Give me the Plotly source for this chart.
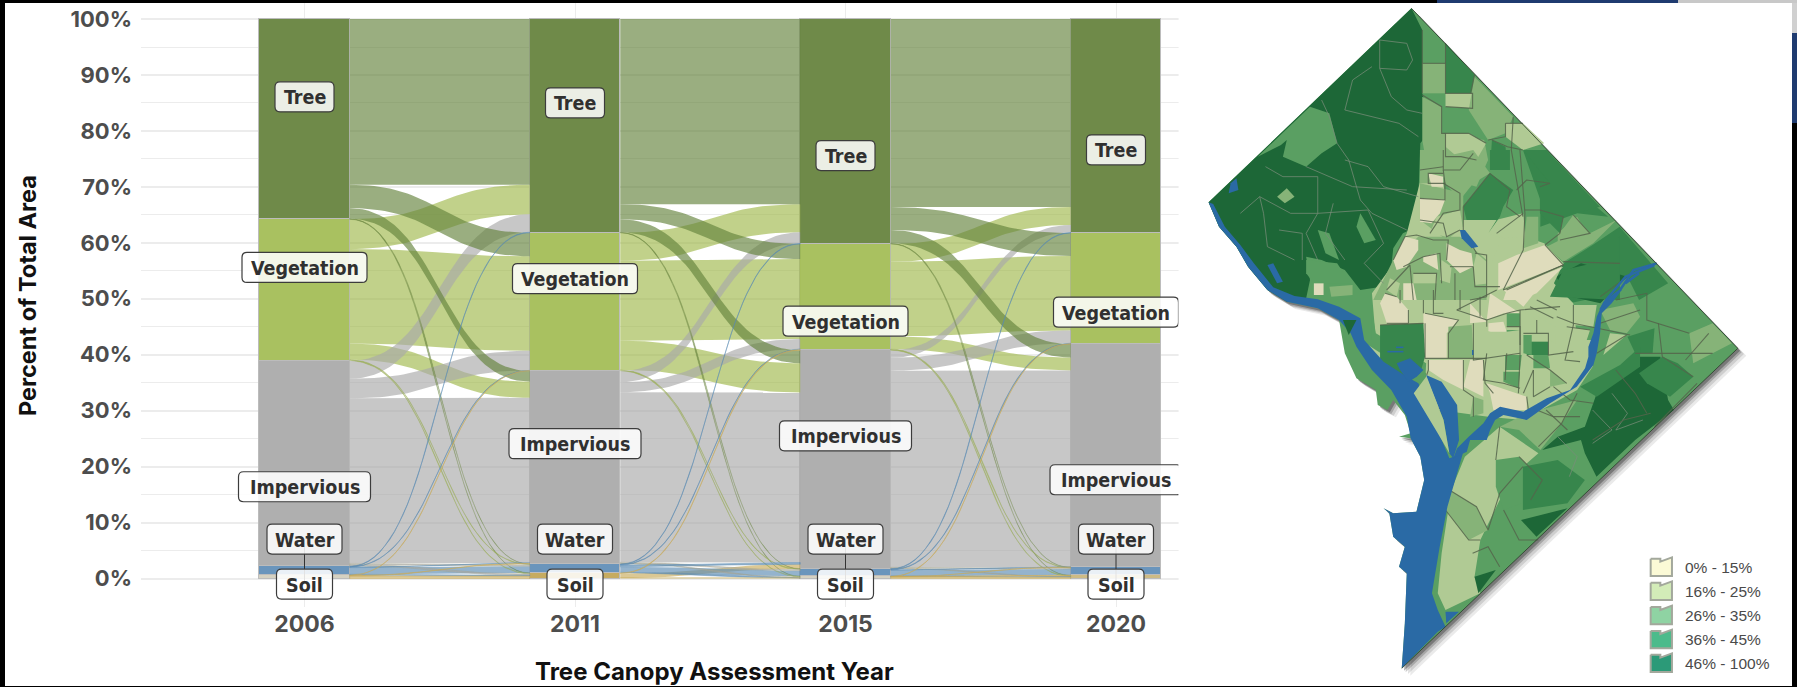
import plotly.graph_objects as go

# ---------------- chart data (percent of total area) ----------------
YEARS = ["2006", "2011", "2015", "2020"]
CLASSES = ["Tree", "Vegetation", "Impervious", "Water", "Soil"]
TREE = [35.8, 38.2, 40.2, 38.25]
VEGETATION = [25.3, 24.7, 19.0, 19.85]
IMPERVIOUS = [36.7, 34.5, 39.05, 39.9]
WATER = [1.6, 1.6, 1.35, 1.45]
SOIL = [0.6, 1.0, 0.4, 0.55]
# flows: row = class in earlier year, column = class in later year
FLOW_2006_2011 = [[29.6, 4.2, 1.9, .05, .05], [5.3, 16.9, 2.9, .1, .1], [3.2, 3.5, 29.5, .25, .25], [.1, .05, .1, 1.2, .15], [0, .05, .1, 0, .45]]
FLOW_2011_2015 = [[33.1, 2.7, 2.32, .05, .03], [5.0, 14.3, 5.23, .1, .07], [2.0, 1.8, 30.4, .2, .1], [.1, .1, .3, 1.0, .1], [0, .1, .8, 0, .1]]
FLOW_2015_2020 = [[33.6, 4.1, 2.4, .05, .05], [3.2, 13.3, 2.3, .1, .1], [1.35, 2.3, 35.15, .15, .1], [.1, .1, .03, 1.1, .02], [0, .05, .02, .05, .28]]
# repelled label heights per year, same order as CLASSES
LABEL_Y = [[86.1, 55.6, 16.4, 7.05, -1.0], [85.0, 53.6, 24.1, 7.05, -1.0], [75.6, 46.0, 25.5, 7.05, -1.0], [76.6, 47.6, 17.65, 7.05, -1.0]]
LABEL_W = [59, 125, 132, 75, 56]
LEADER_YEARS = [0, 2, 3]
LEGEND_LABELS = ["0% - 15%", "16% - 25%", "26% - 35%", "36% - 45%", "46% - 100%"]
LEGEND_COLORS = ["#fbfad6", "#d3ecb8", "#8fd3a3", "#4cbb8b", "#2c9a78"]

STRATA = [TREE, VEGETATION, IMPERVIOUS, WATER, SOIL]
FLOWS = [FLOW_2006_2011, FLOW_2011_2015, FLOW_2015_2020]
STRATUM_COLORS = ["rgba(105,133,66,0.96)", "rgba(165,190,90,0.96)", "rgba(172,172,172,0.96)", "rgba(100,145,185,0.96)",
                  ["rgba(208,204,186,0.9)", "rgba(196,168,90,0.96)", "rgba(208,204,186,0.9)", "rgba(200,180,120,0.9)"]]
FLOW_RGB = ["100,130,60", "160,185,75", "169,169,169", "90,138,178", "200,170,90"]
THIN_LINE = ["rgba(110,135,70,0.4)", "rgba(150,170,90,0.55)", "rgba(160,160,130,0.55)", "rgba(90,138,178,0.75)", "rgba(200,170,90,0.8)"]
FLOW_DRAW_ORDER = [1, 4, 3, 2, 0]
THIN_DRAW_ORDER = [0, 1, 2, 3, 4]
BAR_W = 0.3346

# ---------------- map geometry (map units) ----------------
def z1(*pts):
    return [(439 + .861 * x, 450 + y) for x, y in pts]

def z2(*pts):
    return [(491 + .861 * x, 870 + y) for x, y in pts]

OUTLINE = [(572,25),(1415,1045),(547,2005),(555,1870),(560,1720),(540,1700),(555,1640),(525,1610),(515,1540),(500,1525),(525,1540),(585,1535),(605,1440),(595,1370),(570,1315),(540,1310),(570,1300),(555,1245),(525,1200),(510,1230),(485,1215),(480,1170),(430,1135),(400,1060),(385,960),(330,925),(250,905),(200,870),(150,800),(120,740),(75,680),(48,607)]
C_DARK, C_MD, C_MED, C_LG, C_PALE, C_BEIGE, C_BLUE = "#1d6737", "#37864c", "#5a9f62", "#86b378", "#b0ca94", "#dfdcbc", "#2a6aa5"
ZONES = [
 (C_DARK, [(572,25),(600,90),(600,280),(615,340),(615,400),(595,430),(590,590),(585,680),(550,700),(525,745),(520,800),(495,860),(440,870),(400,810),(340,780),(300,770),(310,840),(300,895),(250,905),(200,870),(150,800),(120,740),(75,680),(48,607)]),
 (C_MED, [(310,320),(175,470),(235,435),(250,420),(240,470),(300,500),(340,460),(380,430),(360,340)]),
 (C_LG, [(225,590),(250,565),(270,590),(245,610)]),
 (C_MED, [(330,690),(360,700),(385,780),(350,760)]),
 (C_MED, [(440,640),(480,720),(450,730),(430,680)]),
 (C_MED, [(300,780),(380,790),(415,850),(320,850),(300,820)]),
 (C_BEIGE, [(320,850),(345,850),(345,885),(320,885)]),
 (C_LG, [(360,860),(420,855),(420,885),(365,890)]),
 (C_MD, [(660,130),(735,225),(725,280),(660,280)]),
 (C_LG, [(600,190),(660,190),(660,280),(600,280)]),
 (C_PALE, [(660,280),(730,280),(730,325),(660,320)]),
 (C_LG, [(735,230),(835,350),(815,400),(770,420),(720,330)]),
 (C_PALE, [(815,370),(860,370),(915,430),(860,450),(815,410)]),
 (C_LG, [(600,290),(650,320),(650,400),(760,420),(770,480),(740,560),(650,530),(615,520),(600,420)]),
 (C_PALE, [(660,400),(720,400),(765,430),(740,480),(690,470),(660,440)]),
 (C_MD, [(780,420),(815,440),(820,510),(775,510)]),
 (C_MD, [(860,450),(930,500),(1080,650),(1000,640),(905,680),(905,600)]),
 (C_LG, [(950,700),(1000,650),(1035,720),(985,730),(950,725)]),
 (C_MD, [(1110,680),(1200,800),(1235,850),(1160,900),(1130,830),(1060,890),(980,910),(935,850),(965,790),(1040,735)]),
 (C_DARK, [(945,830),(1010,790),(1130,830),(1060,910),(985,890)]),
 (C_PALE, [(600,520),(650,520),(660,590),(700,600),(700,660),(790,660),(860,640),(865,710),(915,730),(965,790),(940,850),(990,910),(1000,1020),(1040,1020),(1040,1100),(1000,1170),(860,1260),(770,1250),(610,1225),(610,1120),(480,1020),(470,880),(520,800),(560,700)]),
 (C_MED, [(470,930),(480,1000),(610,1090),(605,1210),(580,1150),(470,1020)]),
 (C_PALE, [(440,1020),(480,1050),(560,1110),(500,1100)]),
 (C_PALE, [(640,1780),(650,1660),(675,1470),(710,1370),(800,1280),(900,1360),(860,1400),(800,1500),(750,1620),(735,1730),(750,1780),(660,1830)]),
 (C_LG, [(670,1470),(740,1520),(770,1590),(720,1620),(660,1530)]),
 (C_MED, [(790,1380),(850,1370),(910,1440),(880,1500),(810,1530),(790,1460)]),
 (C_LG, [(800,1280),(870,1240),(1000,1200),(960,1270),(905,1350),(850,1290)]),
 (C_DARK, [(1150,1070),(1215,1070),(1235,1200),(1250,1230),(1150,1320),(1050,1430),(1020,1360),(1010,1320),(910,1350),(950,1310),(1020,1280),(1060,1150)]),
 (C_MD, [(1160,1120),(1180,1150),(1240,1190),(1300,1130),(1260,1090),(1220,1070)]),
 (C_MD, [(860,1400),(950,1380),(1020,1440),(975,1510),(860,1530)]),
 (C_DARK, [(855,1560),(975,1525),(895,1610)]),
 (C_DARK, [(735,1730),(790,1710),(745,1780)]),
 (C_MD, [(1130,1010),(1200,985),(1195,1060),(1150,1060)]),
 (C_LG, [(1290,1000),(1350,970),(1400,1030),(1300,1090)]),
 # north-central detail
 (C_MD, z1((310,170),(390,70),(460,120),(430,170),(420,200),(385,250),(410,210),(320,210))),
 (C_MD, z1((390,0),(450,0),(450,60),(390,60))),
 (C_MD, z1((490,0),(560,0),(720,170),(610,200),(600,250),(540,190),(540,110),(570,100))),
 (C_LG, z1((600,250),(640,195),(690,250),(640,275))),
 (C_LG, z1((690,250),(770,210),(700,280),(610,335),(560,290),(600,270))),
 (C_PALE, z1((320,210),(385,210),(385,250),(425,265),(395,340),(350,310),(310,240))),
 (C_PALE, z1((410,250),(490,190),(495,260),(430,265))),
 (C_LG, z1((500,200),(535,200),(535,280),(490,295))),
 (C_BEIGE, z1((415,340),(470,315),(555,285),(610,345),(440,410),(415,420))),
 (C_BEIGE, z1((440,420),(610,350),(530,430),(480,450),(430,450))),
 (C_MD, z1((570,440),(610,360),(700,340),(780,260),(780,450))),
 (C_LG, z1((180,0),(250,0),(250,100),(180,100))),
 (C_LG, z1((250,20),(340,0),(390,70),(340,100),(300,150),(255,100))),
 (C_LG, z1((180,100),(310,130),(310,230),(260,270),(180,210))),
 (C_LG, z1((100,330),(175,260),(300,260),(380,330),(380,450),(40,450))),
 (C_BEIGE, z1((205,70),(250,80),(250,110),(215,110))),
 (C_BEIGE, z1((180,145),(255,150),(240,190),(215,220),(180,215))),
 (C_BEIGE, z1((100,330),(135,260),(175,270),(175,300),(140,350),(110,360))),
 (C_BEIGE, z1((260,280),(300,300),(335,310),(340,350),(300,370),(260,330))),
 (C_BEIGE, z1((190,320),(230,310),(235,360),(190,335))),
 (C_PALE, z1((230,200),(300,180),(310,240),(260,260),(210,250))),
 (C_PALE, z1((350,310),(385,340),(390,400),(345,405),(340,350))),
 (C_PALE, z1((245,330),(275,350),(270,400),(240,390))),
 (C_PALE, z1((160,370),(230,370),(230,400),(160,400))),
 (C_PALE, z1((90,385),(120,400),(110,440),(80,420))),
 (C_BEIGE, z1((130,400),(160,400),(170,450),(130,450))),
 # central and southern detail
 (C_BEIGE, z2((0,40),(15,10),(50,20),(85,60),(85,100),(20,100))),
 (C_BEIGE, z2((130,70),(235,90),(200,130),(200,205),(130,205))),
 (C_BEIGE, z2((145,210),(250,210),(250,300),(190,270),(145,240))),
 (C_BEIGE, z2((330,10),(420,70),(370,70),(320,90))),
 (C_BEIGE, z2((270,40),(320,95),(270,100))),
 (C_BEIGE, z2((370,0),(470,0),(430,50))),
 (C_BEIGE, z2((270,210),(310,210),(310,320),(250,290))),
 (C_BEIGE, z2((320,280),(440,320),(440,360),(340,360),(330,310))),
 (C_BEIGE, z2((325,100),(370,95),(380,125),(325,125))),
 (C_LG, z2((205,110),(275,105),(280,205),(205,205))),
 (C_MD, z2((0,105),(130,100),(135,200),(120,250),(80,280),(0,210))),
 (C_MED, z2((380,70),(420,70),(420,110),(380,110))),
 (C_MED, z2((380,120),(420,120),(420,165),(380,165))),
 (C_MD, z2((440,155),(505,155),(505,195),(440,195))),
 (C_MED, z2((375,195),(425,195),(420,240),(375,240))),
 (C_MED, z2((370,245),(420,245),(415,295),(370,275))),
 (C_MED, z2((430,135),(455,135),(455,195),(430,190))),
 (C_MED, z2((460,195),(505,195),(510,235),(460,235))),
 (C_PALE, z2((280,110),(345,130),(420,120),(420,165),(280,165))),
 (C_PALE, z2((320,190),(375,190),(365,270),(315,270))),
 (C_PALE, z2((560,110),(630,120),(600,210),(555,210))),
 (C_PALE, z2((580,45),(650,45),(640,110),(580,105))),
 (C_PALE, z2((690,130),(740,135),(670,195))),
 (C_PALE, z2((420,60),(470,90),(470,130),(425,130))),
 (C_PALE, z2((475,80),(525,110),(525,160),(475,130))),
 (C_LG, z2((510,240),(560,280),(510,290))),
 (C_PALE, z2((555,215),(610,215),(595,265),(555,270))),
 (C_LG, z2((660,60),(760,40),(780,80),(740,130),(690,120))),
 (C_MD, z2((600,290),(720,225),(780,170),(780,230),(650,320))),
 (C_LG, z2((270,380),(280,320),(310,330),(310,370))),
]
ANACOSTIA = ([(680,1375),(690,1345),(720,1310)]
             + z2((310,400),(330,370),(360,350),(430,365),(500,325),(570,300),(615,235),(625,200),(625,170),(640,130),(650,80),(670,35),(715,0),
                  (725,0),(695,40),(665,70),(660,130),(650,190),(640,225),(590,290),(510,340),(440,390),(370,375),(345,390),(330,420),(320,450),(270,450))
             + [(715,1355)])
WATER_AREAS = [
 [(48,607),(60,612),(90,680),(130,735),(165,790),(215,862),(270,888),(330,898),(385,920),(440,955),(450,1020),(500,1085),(560,1130),(590,1150),(670,1375),(705,1360),(665,1520),(645,1640),(625,1780),(640,1830),(660,1880),(640,1895),(547,2005),(555,1870),(560,1720),(540,1700),(555,1640),(525,1610),(515,1540),(500,1525),(525,1540),(585,1535),(605,1440),(595,1370),(570,1315),(560,1250),(520,1170),(470,1110),(430,1040),(415,1000),(385,960),(330,925),(250,905),(200,870),(150,800),(120,740),(75,680)],
 [(610,1125),(650,1145),(690,1215),(695,1320),(680,1375),(670,1360),(655,1260)],
 ANACOSTIA,
 z2((50,220),(90,205),(130,240),(110,260),(85,275),(60,240)),
 z1((300,240),(315,240),(355,290),(335,295),(305,265)),
 [(200,795),(215,790),(240,845),(225,850)],
 [(105,550),(120,535),(125,570),(100,580)],
 [(660,1835),(695,1835),(662,1870)],
]
RIVER_LINES = [z2((720,0),(760,-60),(830,-80)) , [(1060,930),(1075,900),(1125,830),(1200,795)], [(1125,850),(1160,820)]]
POND_LINES = [z2((22,185),(70,185)), z2((48,172),(70,172)), z2((278,180),(278,195))]
ISLANDS = [(C_PALE, [(578,1180),(610,1130),(655,1260),(670,1360),(640,1300)]), (C_DARK, [(395,960),(430,960),(410,1005)])]
TRACTS_DARK = [
 [(490,120),(560,130),(575,180),(560,210),(490,205),(490,120)], [(490,205),(520,290),(560,330),(600,340)], [(470,200),(420,240),(400,330),(470,350),(540,370),(590,410)],
 [(340,300),(360,350),(380,430),(410,480),(440,600),(470,640),(560,690)], [(300,500),(340,520),(420,560),(560,570)], [(195,500),(240,530),(330,530)], [(330,530),(330,640),(300,700),(330,780)],
 [(180,590),(260,640),(330,640),(460,630)], [(130,640),(180,590),(190,640),(200,740),(270,780)], [(460,630),(500,730),(450,790),(500,850)], [(370,610),(350,700),(400,780)],
 [(400,480),(460,500),(500,560),(590,590)], [(230,690),(290,700),(290,780)], [(1090,1180),(1130,1240),(1100,1290),(1170,1260)], [(1040,1330),(1090,1290),(1040,1230)], [(950,1310),(1000,1370),(980,1430)],
]
TRACTS = [
 [(600,90),(600,280)], [(660,130),(660,280),(730,280),(730,325),(660,320)], [(600,190),(660,190)], [(600,285),(650,320),(650,400),(720,400),(765,430)], [(660,400),(660,470),(700,470),(740,480)],
 [(735,225),(725,280)], [(815,370),(860,370)], [(815,370),(815,410),(770,420)], [(860,450),(820,440),(780,420)], [(835,350),(830,450),(860,650)],
 [(1060,890),(1130,830)], [(1100,900),(1180,880),(1180,960),(1290,1000)], [(1210,970),(1220,1070),(1300,1130)], [(1340,1000),(1280,1080)], [(1150,1060),(1350,1060)],
 [(670,1470),(740,1520),(770,1590),(800,1480),(860,1400)], [(660,1530),(720,1620),(750,1620)], [(790,1380),(800,1280)], [(850,1370),(910,1440),(880,1500)], [(810,1530),(850,1620),(900,1620)], [(730,1660),(770,1640),(800,1700)],
 [(900,1340),(960,1270),(1000,1180)], [(1040,1320),(1120,1260),(1190,1240)], [(1100,1110),(1150,1180),(1180,1240)], [(920,1230),(975,1290)], [(1310,1150),(1200,1280)],
 z1((480,0),(495,190),(490,300),(430,420)), z1((310,170),(310,240),(350,310)), z1((390,70),(310,170)), z1((410,250),(490,190)), z1((495,180),(540,180),(610,200),(600,250)),
 z1((555,285),(600,250)), z1((555,285),(610,345),(430,420)), z1((610,345),(440,420)), z1((610,335),(780,340)), z1((250,100),(300,130),(300,180),(250,190),(210,250)),
 z1((180,145),(255,150),(255,100),(205,100),(205,70),(250,70)), z1((180,210),(250,220),(260,260),(300,240)), z1((100,330),(135,260),(170,255),(220,270),(265,270),(260,330)),
 z1((130,350),(190,320),(240,310),(245,400)), z1((345,310),(380,315),(380,440)), z1((340,350),(345,410),(420,410)), z1((80,420),(150,345),(160,450)), z1((160,370),(230,370),(225,450)),
 z1((250,0),(250,60),(300,60),(340,10)), z1((250,60),(255,100)), z1((180,60),(250,50)), z1((270,350),(340,350)), z1((285,370),(285,450)), z1((380,440),(330,450)), z1((390,70),(450,120),(440,170),(480,200)),
 z1((540,110),(570,100),(500,90),(470,120)), z1((600,270),(690,250),(640,195)),
 z2((135,70),(235,90),(205,130),(205,205)), z2((135,100),(135,205),(320,205)), z2((0,105),(130,100)), z2((280,100),(280,210),(420,190)), z2((320,90),(380,70),(420,60),(540,50)),
 z2((230,60),(350,0)), z2((230,60),(320,90),(320,110)), z2((320,190),(310,270),(370,280),(420,295)), z2((380,110),(420,110),(420,165)), z2((420,60),(420,195),(415,310)),
 z2((430,130),(505,130),(505,195),(580,185)), z2((440,195),(510,240),(560,280)), z2((560,110),(630,120)), z2((470,90),(470,130)), z2((470,30),(530,60)), z2((450,50),(520,85)),
 z2((530,80),(580,100),(750,135)), z2((580,45),(580,105),(555,210),(600,215)), z2((250,210),(250,300),(280,320),(280,380)), z2((310,210),(315,280),(340,310)), z2((145,210),(145,240),(140,255)),
 z2((440,320),(445,360)), z2((100,355),(200,355)), z2((470,360),(520,380),(600,380)), z2((520,290),(570,330),(640,340)), z2((460,240),(460,320),(510,290)), z2((650,190),(740,135)), z2((660,100),(780,60)),
 z2((85,60),(85,100)), z2((20,100),(85,100)), z2((50,20),(15,10)), z2((60,0),(60,40)), z2((130,30),(130,70)), z2((160,0),(160,70),(190,70)), z2((240,0),(240,60)), z2((300,20),(300,80)),
 z2((380,190),(375,270)), z2((430,310),(460,240)),
]
LEGEND_Y = [1702, 1774, 1847, 1919, 1990]
SHADOW_STEPS = [(22, 22, .10), (16, 17, .15), (10, 12, .25), (6, 7, .4)]


def flow_polygon(x0, x1, t0, b0, t1, b1, n=40):
    """S-shaped ribbon between two strata."""
    ts = [i / n for i in range(n + 1)]
    xm = (x0 + x1) / 2
    def bez(a, b, t):
        return (1-t)**3*a + 3*(1-t)**2*t*a + 3*(1-t)*t*t*b + t**3*b
    xs = [(1-t)**3*x0 + 3*(1-t)**2*t*xm + 3*(1-t)*t*t*xm + t**3*x1 for t in ts]
    top = [bez(t0, t1, t) for t in ts]
    bot = [bez(b0, b1, t) for t in ts]
    return xs + xs[::-1] + [xs[0]], top + bot[::-1] + [top[0]]


fig = go.Figure()

# flows: broad ribbons first, hairline ribbons above them
for k, matrix in enumerate(FLOWS):
    left_pos = {}
    y = 100.0
    for i in range(5):
        for j in range(5):
            left_pos[(i, j)] = (y, y - matrix[i][j])
            y -= matrix[i][j]
    right_pos = {}
    y = 100.0
    for j in range(5):
        for i in range(5):
            right_pos[(i, j)] = (y, y - matrix[i][j])
            y -= matrix[i][j]
    for thin, order in ((False, FLOW_DRAW_ORDER), (True, THIN_DRAW_ORDER)):
        for i in order:
            for j in range(5):
                v = matrix[i][j]
                if v <= 0 or (v < 0.5) != thin:
                    continue
                xs, ys = flow_polygon(k + BAR_W / 2, k + 1 - BAR_W / 2, *left_pos[(i, j)], *right_pos[(i, j)])
                fig.add_trace(go.Scatter(
                    x=xs, y=ys, mode="lines", fill="toself", fillcolor=f"rgba({FLOW_RGB[i]},0.65)",
                    line=dict(width=0.6 if thin else 0, color=THIN_LINE[i]),
                    hoverinfo="skip", showlegend=False))

# strata
for name, vals, col in reversed(list(zip(CLASSES, STRATA, STRATUM_COLORS))):
    fig.add_trace(go.Bar(x=[0, 1, 2, 3], y=vals, name=name, width=BAR_W, showlegend=False,
                         marker=dict(color=col, line=dict(color="rgb(188,188,188)", width=1))))

# map: soft shadow, land, zones, tract lines, water
def map_poly(pts, color, dx=0, dy=0):
    xs = [p[0] + dx for p in pts] + [pts[0][0] + dx]
    ys = [p[1] + dy for p in pts] + [pts[0][1] + dy]
    fig.add_trace(go.Scatter(x=xs, y=ys, xaxis="x2", yaxis="y2", mode="lines", fill="toself", fillcolor=color,
                             line=dict(width=0), hoverinfo="skip", showlegend=False))

def map_line(pts, color, width):
    fig.add_trace(go.Scatter(x=[p[0] for p in pts], y=[p[1] for p in pts], xaxis="x2", yaxis="y2", mode="lines",
                             line=dict(width=width, color=color), hoverinfo="skip", showlegend=False))

for dx, dy, a in SHADOW_STEPS:
    map_poly(OUTLINE, f"rgba(50,50,50,{a})", dx, dy)
map_poly(OUTLINE, C_MED)
for color, pts in ZONES:
    map_poly(pts, color)
for pts in TRACTS_DARK:
    map_line(pts, "rgba(120,140,120,0.75)", 1)
for pts in TRACTS:
    map_line(pts, "rgba(85,100,75,0.85)", 1.1)
for pts in WATER_AREAS:
    map_poly(pts, C_BLUE)
for pts in RIVER_LINES:
    map_line(pts, C_BLUE, 2.5)
for pts in POND_LINES:
    map_line(pts, C_BLUE, 1.5)
for color, pts in ISLANDS:
    map_poly(pts, color)
map_line(OUTLINE[:3], "rgba(40,60,40,0.8)", 1)

# map legend swatches
for vy, col in zip(LEGEND_Y, LEGEND_COLORS):
    swatch = [(1190, vy - 26), (1215, vy - 26), (1215, vy - 17), (1245, vy - 30), (1245, vy + 26), (1190, vy + 26)]
    fig.add_trace(go.Scatter(x=[p[0] for p in swatch] + [1190], y=[p[1] for p in swatch] + [vy - 26], xaxis="x2", yaxis="y2",
                             mode="lines", fill="toself", fillcolor=col, line=dict(color="#a3a89c", width=2),
                             hoverinfo="skip", showlegend=False))

PX_PER_PCT = 5.595
Y_BOTTOM_PX, Y_TOP_PX = 606.5, 3.0
H = 687
W = 1797
ymin = -5.0
ymax = ymin + (Y_BOTTOM_PX - Y_TOP_PX) / PX_PER_PCT
XL, XR = 141.0, 1178.6
xmin = (XL - 304.5) / 270.5
xmax = (XR - 304.5) / 270.5

shapes = []
annotations = []

def rounded(w, h, r=5):
    a, b = w / 2, h / 2
    return (f"M {-a + r} {-b} L {a - r} {-b} Q {a} {-b} {a} {-b + r} L {a} {b - r} Q {a} {b} {a - r} {b} "
            f"L {-a + r} {b} Q {-a} {b} {-a} {b - r} L {-a} {-b + r} Q {-a} {-b} {-a + r} {-b} Z")

# leader lines
for k in LEADER_YEARS:
    shapes.append(dict(type="line", xref="x", yref="y", x0=k, x1=k, y0=LABEL_Y[k][3], y1=LABEL_Y[k][4],
                       line=dict(color="#333333", width=1)))
# label boxes + texts
for k in range(4):
    for c, name in enumerate(CLASSES):
        shapes.append(dict(type="path", xref="x", yref="y", xsizemode="pixel", ysizemode="pixel",
                           xanchor=k, yanchor=LABEL_Y[k][c], path=rounded(LABEL_W[c], 30),
                           fillcolor="rgba(255,255,255,0.86)", line=dict(color="#3c3c3c", width=1.2)))
        annotations.append(dict(x=k, y=LABEL_Y[k][c], xref="x", yref="y", text=name, showarrow=False, yshift=-1,
                                font=dict(family="DejaVu Sans Condensed, DejaVu Sans", size=19.5, color="#303030", weight=700)))

# clip right side of the chart panel, then the dark picture frame
def px_rect(x0, y0, x1, y1, color):
    shapes.append(dict(type="rect", xref="paper", yref="paper", x0=x0 / W, x1=x1 / W, y0=1 - y1 / H, y1=1 - y0 / H,
                       fillcolor=color, line=dict(width=0)))

px_rect(1178.6, 3, 1205, 606, "white")
px_rect(0, 0, 5, H, "black")
px_rect(0, 0, 1437, 3, "black")
px_rect(1437, 0, 1678, 3, "#1f3b70")
px_rect(1678, 0, W, 3, "#c8c8c8")
px_rect(0, 686, W, H, "black")
px_rect(1792, 3, W, 33, "#d0d0d0")
px_rect(1792, 33, W, 123, "#1f3b70")
px_rect(1792, 123, W, H, "black")

# axis titles
annotations.append(dict(x=714 / W, y=1 - 671 / H, xref="paper", yref="paper", text="Tree Canopy Assessment Year",
                        xanchor="center", yanchor="middle", showarrow=False,
                        font=dict(family="Inter", size=24, color="#111111", weight=700)))
annotations.append(dict(x=27 / W, y=1 - 296 / H, xref="paper", yref="paper", text="Percent of Total Area", textangle=-90,
                        xanchor="center", yanchor="middle", showarrow=False,
                        font=dict(family="Inter", size=23.5, color="#111111", weight=700)))
# legend labels
for vy, lab in zip(LEGEND_Y, LEGEND_LABELS):
    annotations.append(dict(x=1274, y=vy, xref="x2", yref="y2", text=lab, showarrow=False, xanchor="left",
                            font=dict(family="Liberation Sans", size=15.5, color="#4a4a4a")))

GRID = "#ececec"
fig.update_layout(
    width=W, height=H, autosize=False, margin=dict(l=0, r=0, t=0, b=0),
    paper_bgcolor="white", plot_bgcolor="white", barmode="stack", bargap=0, showlegend=False,
    xaxis=dict(domain=[XL / W, XR / W], range=[xmin, xmax], tickmode="array", tickvals=[0, 1, 2, 3], ticktext=YEARS,
               showgrid=True, gridcolor=GRID, gridwidth=1.2, zeroline=False, showline=False, ticks="",
               tickfont=dict(family="Inter", size=23, color="#4d4d4d", weight=700), ticklabelstandoff=1, anchor="y"),
    yaxis=dict(domain=[1 - Y_BOTTOM_PX / H, 1 - Y_TOP_PX / H], range=[ymin, ymax], tickmode="array",
               tickvals=list(range(0, 101, 10)), ticktext=[f"{v}%" for v in range(0, 101, 10)],
               showgrid=True, gridcolor=GRID, gridwidth=1.6, zeroline=False, showline=False, ticks="",
               tickfont=dict(family="Inter", size=22, color="#4d4d4d", weight=700), ticklabelstandoff=8, anchor="x",
               minor=dict(tickmode="array", tickvals=list(range(-5, 101, 10)), showgrid=True, gridcolor=GRID, gridwidth=1.2)),
    xaxis2=dict(domain=[1190 / W, 1], range=[0, 1568], visible=False, anchor="y2", fixedrange=True),
    yaxis2=dict(domain=[0, 1], range=[2061, 0], visible=False, anchor="x2", fixedrange=True),
    shapes=shapes, annotations=annotations,
)

fig.write_html("out.html", config={"displayModeBar": False},
               post_script="document.body.style.margin='0';document.body.style.overflow='hidden';")
